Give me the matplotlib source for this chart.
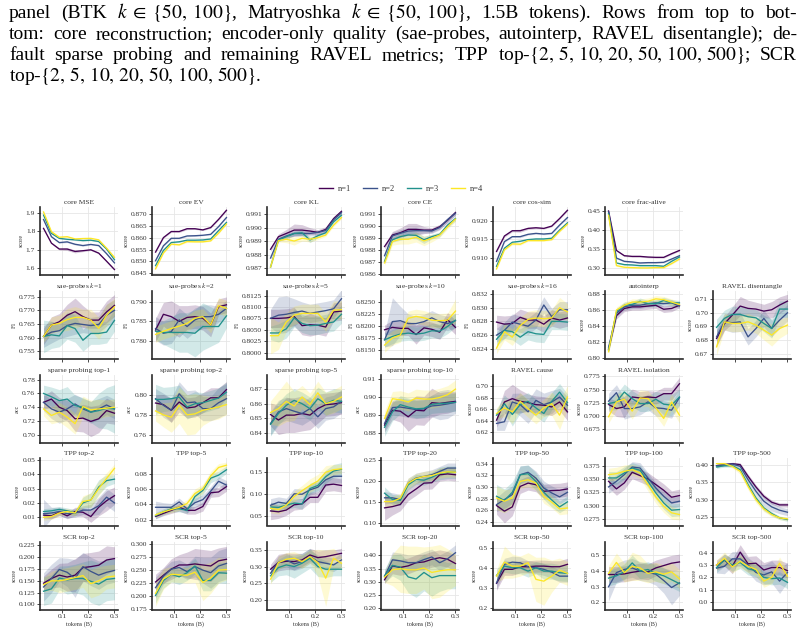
import matplotlib
matplotlib.use("Agg")
import matplotlib.pyplot as plt
from matplotlib.lines import Line2D
import numpy as np

plt.rcParams['font.family'] = 'serif'
plt.rcParams['font.serif'] = ['Liberation Serif', 'DejaVu Serif']
plt.rcParams['mathtext.fontset'] = 'stix'

tokens = [0.03, 0.06, 0.09, 0.12, 0.15, 0.18, 0.21, 0.24, 0.27, 0.30]
series_labels = ["n=1", "n=2", "n=3", "n=4"]
colors = ["#440154", "#3b528b", "#21918c", "#fde725"]

# ---------------- row 1: core reconstruction ----------------
core_mse = [[1.816, 1.736, 1.704, 1.704, 1.691, 1.695, 1.700, 1.682, 1.638, 1.593],
            [1.864, 1.771, 1.739, 1.743, 1.730, 1.723, 1.729, 1.723, 1.679, 1.629],
            [1.888, 1.789, 1.762, 1.757, 1.754, 1.750, 1.752, 1.745, 1.704, 1.646],
            [1.905, 1.798, 1.768, 1.771, 1.759, 1.761, 1.762, 1.754, 1.709, 1.659]]
core_mse_sd = [[.004, .004, .005, .008, .008, .005, .004, .004, .004, .004],
               [.003, .003, .004, .004, .004, .004, .003, .003, .003, .003],
               [.003, .003, .003, .003, .004, .004, .003, .003, .003, .003],
               [.004, .003, .004, .004, .004, .003, .003, .003, .003, .003]]

core_ev = [[.8539, .8601, .8627, .8627, .8639, .8639, .8634, .8644, .8679, .8718],
           [.8502, .8566, .8598, .8598, .8608, .8609, .8611, .8615, .8648, .8687],
           [.8481, .8546, .8580, .8583, .8590, .8590, .8591, .8595, .8631, .8666],
           [.8467, .8535, .8573, .8570, .8584, .8583, .8583, .8587, .8620, .8659]]
core_ev_sd = [[.0003, .0003, .0003, .0004, .0004, .0003, .0003, .0003, .0003, .0003],
              [.0002, .0003, .0003, .0003, .0003, .0003, .0002, .0002, .0002, .0002],
              [.0002, .0002, .0003, .0003, .0003, .0003, .0002, .0002, .0002, .0002],
              [.0003, .0003, .0003, .0003, .0004, .0003, .0003, .0002, .0002, .0002]]

core_kl = [[.98841, .98934, .98958, .98983, .98983, .98976, .98966, .98988, .99068, .99122],
           [.98776, .98915, .98939, .98958, .98958, .98958, .98966, .98980, .99059, .99112],
           [.98710, .98910, .98934, .98958, .98963, .98910, .98941, .98963, .99044, .99093],
           [.98710, .98905, .98915, .98902, .98922, .98915, .98927, .98946, .99020, .99076]]
core_kl_sd = [[.00015, .0002, .0003, .00045, .0004, .00025, .0002, .0002, .00015, .0001],
              [.0001, .00015, .0002, .0002, .0002, .0002, .00015, .0001, .0001, .0001],
              [.0001, .0001, .00015, .00015, .0002, .0002, .00015, .0001, .0001, .0001],
              [.0001, .0001, .00025, .0003, .0002, .0002, .00015, .0001, .0001, .0001]]

core_ce = [[.98829, .98926, .98945, .98973, .98973, .98967, .98967, .98995, .99050, .99114],
           [.98752, .98918, .98940, .98959, .98962, .98962, .98959, .98989, .99055, .99108],
           [.98705, .98885, .98912, .98926, .98923, .98885, .98912, .98931, .99009, .99064],
           [.98691, .98871, .98890, .98890, .98907, .98876, .98898, .98926, .98995, .99059]]
core_ce_sd = [[.0002, .0003, .0004, .0005, .0005, .0003, .0002, .0002, .0002, .0002],
              [.0002, .0003, .0003, .0003, .0003, .0002, .0002, .0002, .0002, .0002],
              [.0002, .0002, .0003, .0003, .0003, .0003, .0002, .0002, .0002, .0002],
              [.0002, .0003, .0004, .0004, .0004, .0004, .0003, .0002, .0002, .0002]]

core_cos = [[.91170, .91589, .91732, .91732, .91795, .91812, .91795, .91857, .92062, .92286],
            [.90902, .91437, .91571, .91571, .91634, .91660, .91642, .91660, .91884, .92089],
            [.90768, .91259, .91420, .91446, .91491, .91509, .91509, .91527, .91750, .91946],
            [.90696, .91214, .91375, .91366, .91464, .91464, .91464, .91490, .91714, .91910]]
core_cos_sd = [[.0002, .0003, .0003, .0004, .0003, .0003, .0002, .0002, .0002, .0002],
               [.0002, .0002, .0002, .0003, .0002, .0002, .0002, .0002, .0002, .0002],
               [.0002, .0002, .0002, .0002, .0002, .0002, .0002, .0002, .0002, .0002],
               [.0002, .0002, .0003, .0003, .0002, .0002, .0002, .0002, .0002, .0002]]

core_alive = [[.4500, .3466, .3328, .3310, .3310, .3293, .3285, .3285, .3380, .3466],
              [.4474, .3267, .3181, .3164, .3138, .3147, .3147, .3155, .3241, .3328],
              [.4431, .3138, .3095, .3086, .3069, .3069, .3069, .3052, .3181, .3293],
              [.4388, .3069, .3026, .3017, .3009, .3009, .3017, .3017, .3121, .3241]]
core_alive_sd = [[.002, .002, .002, .002, .002, .002, .002, .002, .002, .002],
                 [.002, .002, .002, .002, .002, .002, .002, .002, .002, .002],
                 [.002, .002, .002, .002, .002, .002, .002, .002, .002, .002],
                 [.002, .002, .002, .002, .002, .002, .002, .002, .002, .002]]

# ---------------- row 2: encoder-only quality ----------------
sae_k1 = [[.7604, .7646, .7658, .7682, .7695, .7677, .7664, .7664, .7694, .7718],
          [.7604, .7620, .7625, .7644, .7652, .7648, .7644, .7648, .7682, .7700],
          [.7604, .7610, .7606, .7644, .7633, .7590, .7615, .7615, .7620, .7663],
          [.7604, .7646, .7652, .7666, .7674, .7674, .7664, .7634, .7682, .7713]]
sae_k1_sd = [[.003, .003, .003, .004, .005, .004, .003, .003, .004, .004],
             [.004, .004, .003, .004, .004, .003, .003, .003, .004, .004],
             [.006, .005, .004, .005, .005, .004, .004, .004, .004, .004],
             [.002, .003, .003, .004, .004, .003, .004, .004, .004, .003]]

sae_k2 = [[.7828, .7868, .7862, .7850, .7860, .7862, .7858, .7841, .7887, .7892],
          [.7832, .7820, .7824, .7854, .7837, .7854, .7862, .7862, .7868, .7883],
          [.7825, .7822, .7822, .7822, .7822, .7820, .7837, .7837, .7837, .7864],
          [.7817, .7825, .7832, .7838, .7845, .7858, .7862, .7841, .7890, .7883]]
sae_k2_sd = [[.003, .003, .004, .004, .003, .003, .003, .003, .002, .002],
             [.003, .003, .003, .003, .003, .003, .003, .003, .002, .002],
             [.002, .003, .004, .005, .005, .006, .006, .005, .004, .003],
             [.002, .002, .002, .002, .002, .002, .002, .002, .002, .002]]

sae_k5 = [[.8075, .8075, .8076, .8079, .8059, .8061, .8060, .8056, .8089, .8091],
          [.8075, .8082, .8084, .8088, .8091, .8086, .8089, .8092, .8096, .8118],
          [.8043, .8043, .8052, .8076, .8064, .8059, .8060, .8064, .8067, .8084],
          [.8037, .8037, .8067, .8082, .8086, .8086, .8086, .8067, .8093, .8094]]
sae_k5_sd = [[.002, .002, .002, .002, .002, .0025, .002, .002, .002, .002],
             [.002, .004, .004, .003, .002, .002, .002, .002, .002, .002],
             [.0015, .002, .002, .002, .002, .002, .002, .002, .002, .002],
             [.004, .003, .002, .002, .002, .002, .002, .002, .002, .002]]

sae_k10 = [[.8193, .8198, .8196, .8196, .8183, .8197, .8194, .8188, .8214, .8198],
           [.8172, .8210, .8212, .8206, .8206, .8210, .8218, .8210, .8206, .8212],
           [.8172, .8179, .8184, .8186, .8184, .8186, .8191, .8190, .8200, .8213],
           [.8161, .8176, .8182, .8217, .8221, .8218, .8213, .8212, .8213, .8232]]
sae_k10_sd = [[.0010, .0015, .0015, .0015, .0020, .0015, .0015, .0015, .0015, .0015],
              [.0015, .0050, .0030, .0020, .0015, .0015, .0015, .0015, .0015, .0015],
              [.0015, .0015, .0015, .0015, .0015, .0015, .0015, .0015, .0015, .0015],
              [.0015, .0015, .0015, .0015, .0015, .0015, .0015, .0015, .0015, .0025]]

sae_k16 = [[.8279, .8276, .8277, .8286, .8282, .8282, .8276, .8285, .8282, .8285],
           [.8260, .8267, .8279, .8276, .8273, .8282, .8304, .8287, .8297, .8297],
           [.8254, .8267, .8265, .8257, .8265, .8262, .8261, .8280, .8280, .8279],
           [.8241, .8265, .8257, .8274, .8283, .8285, .8284, .8285, .8300, .8294]]
sae_k16_sd = [[.0010, .0012, .0012, .0012, .0012, .0012, .0012, .0012, .0012, .0012],
              [.0010, .0012, .0012, .0012, .0012, .0012, .0012, .0012, .0012, .0012],
              [.0010, .0012, .0012, .0012, .0012, .0012, .0012, .0012, .0012, .0012],
              [.0008, .0012, .0012, .0012, .0012, .0012, .0012, .0012, .0015, .0012]]

autointerp = [[.811, .853, .862, .864, .864, .865, .866, .861, .862, .866],
              [.813, .856, .864, .866, .866, .868, .869, .868, .869, .865],
              [.810, .858, .866, .867, .871, .868, .868, .872, .869, .869],
              [.808, .860, .866, .870, .870, .871, .874, .873, .870, .867]]
autointerp_sd = [[.003, .004, .004, .004, .004, .004, .004, .004, .004, .003],
                 [.003, .004, .004, .004, .004, .004, .004, .004, .004, .003],
                 [.003, .004, .004, .004, .004, .004, .004, .004, .004, .003],
                 [.003, .004, .004, .004, .004, .004, .004, .004, .004, .003]]

ravel_dis = [[.6812, .6920, .6983, .7049, .7032, .7027, .7012, .7022, .7056, .7085],
             [.6824, .6934, .6927, .6934, .6824, .6885, .6959, .6885, .6946, .7000],
             [.6893, .6959, .6988, .6988, .6971, .6963, .6922, .6885, .7027, .7027],
             [.6751, .6934, .6922, .6922, .6934, .6910, .6873, .6837, .6885, .6910]]
ravel_dis_sd = [[.006, .005, .006, .007, .006, .005, .005, .006, .006, .005],
                [.006, .006, .007, .007, .006, .006, .006, .006, .006, .006],
                [.006, .006, .006, .006, .006, .006, .006, .007, .006, .006],
                [.006, .006, .006, .006, .006, .006, .007, .008, .007, .006]]

# ---------------- row 3: sparse probing & RAVEL ----------------
sp_top1 = [[.7471, .7519, .7400, .7352, .7233, .7243, .7195, .7233, .7352, .7314],
           [.7471, .7376, .7329, .7376, .7448, .7376, .7329, .7376, .7433, .7376],
           [.7600, .7552, .7495, .7519, .7424, .7400, .7329, .7352, .7386, .7376],
           [.7376, .7281, .7329, .7257, .7162, .7410, .7362, .7376, .7386, .7400]]
sp_top1_sd = [[.010, .012, .014, .015, .018, .020, .022, .020, .018, .016],
              [.012, .014, .016, .015, .014, .015, .016, .015, .014, .014],
              [.012, .014, .016, .018, .015, .014, .015, .025, .030, .035],
              [.010, .012, .014, .015, .015, .015, .014, .014, .012, .012]]

sp_top2 = [[.7918, .7902, .7846, .7928, .7869, .7879, .7921, .7970, .7970, .8052],
           [.7961, .7895, .7846, .8010, .7921, .7928, .7862, .7862, .7921, .7961],
           [.7954, .7954, .7961, .7977, .7879, .7911, .7921, .7944, .7967, .8026],
           [.7839, .7800, .7777, .7895, .7800, .7810, .7846, .7862, .7879, .7902]]
sp_top2_sd = [[.008, .010, .012, .010, .010, .010, .010, .010, .010, .008],
              [.010, .012, .012, .012, .012, .012, .012, .012, .015, .015],
              [.015, .012, .012, .012, .012, .012, .010, .010, .010, .010],
              [.010, .012, .015, .018, .020, .020, .015, .012, .012, .010]]

sp_top5 = [[.8527, .8489, .8523, .8523, .8534, .8523, .8568, .8595, .8600, .8609],
           [.8466, .8545, .8568, .8550, .8534, .8568, .8511, .8568, .8580, .8618],
           [.8459, .8534, .8591, .8625, .8602, .8568, .8636, .8602, .8625, .8618],
           [.8541, .8568, .8618, .8586, .8648, .8595, .8677, .8602, .8618, .8648]]
sp_top5_sd = [[.008, .010, .012, .012, .012, .010, .010, .008, .008, .008],
              [.008, .008, .008, .008, .008, .008, .008, .008, .008, .008],
              [.008, .008, .008, .008, .008, .008, .008, .008, .008, .008],
              [.008, .012, .014, .010, .008, .008, .008, .008, .008, .008]]

sp_top10 = [[.8845, .8927, .8922, .8891, .8927, .8924, .8969, .8965, .8971, .8976],
            [.8855, .8942, .8945, .8938, .8931, .8935, .8951, .8955, .8962, .8971],
            [.8833, .8918, .8958, .8945, .8935, .8938, .8960, .8964, .8967, .8971],
            [.8882, .8991, .8985, .8973, .8994, .8989, .8989, .8998, .9013, .9044]]
sp_top10_sd = [[.004, .005, .006, .008, .008, .008, .008, .006, .006, .005],
               [.004, .004, .005, .005, .005, .005, .006, .008, .008, .006],
               [.005, .005, .005, .005, .005, .005, .005, .005, .005, .005],
               [.004, .004, .005, .005, .005, .005, .005, .005, .005, .005]]

ravel_cause = [[.6411, .6726, .6783, .6737, .6714, .6680, .6669, .6640, .6726, .6554],
               [.6354, .6383, .6726, .6680, .6554, .6754, .6680, .6726, .6811, .6669],
               [.6497, .6697, .6509, .6680, .6737, .6623, .6526, .6737, .6897, .6714],
               [.6526, .6623, .6554, .6737, .6611, .6497, .6623, .6697, .6497, .6811]]
ravel_cause_sd = [[.012, .020, .025, .020, .015, .015, .015, .015, .015, .015],
                  [.012, .015, .015, .020, .020, .020, .020, .020, .015, .015],
                  [.010, .015, .020, .015, .015, .015, .015, .015, .015, .015],
                  [.010, .015, .020, .015, .015, .015, .015, .020, .025, .020]]

ravel_iso = [[.7219, .7143, .7174, .7361, .7342, .7361, .7348, .7423, .7423, .7610],
             [.7281, .7442, .7143, .7143, .7174, .7268, .7156, .7143, .7112, .7348],
             [.7237, .7268, .7454, .7330, .7237, .7237, .7318, .7225, .7206, .7361],
             [.6988, .7268, .7318, .7094, .7342, .7330, .7156, .6957, .7268, .7019]]
ravel_iso_sd = [[.012, .015, .020, .015, .012, .012, .012, .012, .012, .012],
                [.015, .015, .020, .015, .015, .015, .015, .015, .015, .015],
                [.012, .015, .015, .015, .015, .015, .015, .020, .020, .015],
                [.012, .015, .015, .015, .015, .015, .015, .015, .015, .015]]

# ---------------- row 4: TPP ----------------
tpp2 = [[.0115, .0110, .0135, .0110, .0140, .0135, .0105, .0170, .0215, .0250],
        [.0125, .0130, .0140, .0125, .0130, .0150, .0150, .0180, .0240, .0200],
        [.0140, .0145, .0155, .0145, .0130, .0200, .0220, .0310, .0355, .0365],
        [.0100, .0105, .0130, .0140, .0130, .0210, .0220, .0300, .0370, .0440]]
tpp2_sd = [[.002, .002, .002, .002, .003, .003, .004, .006, .007, .006],
           [.010, .004, .003, .003, .003, .003, .004, .006, .006, .006],
           [.002, .002, .002, .002, .002, .004, .005, .005, .004, .003],
           [.002, .002, .002, .002, .002, .004, .005, .005, .004, .003]]

tpp5 = [[.024, .028, .032, .036, .032, .032, .037, .055, .056, .063],
        [.036, .036, .036, .043, .034, .042, .046, .057, .070, .065],
        [.025, .030, .034, .034, .032, .050, .058, .074, .078, .085],
        [.026, .030, .033, .036, .041, .054, .060, .077, .088, .091]]
tpp5_sd = [[.003, .003, .004, .005, .005, .005, .006, .006, .006, .006],
           [.008, .006, .005, .005, .005, .006, .006, .006, .006, .006],
           [.004, .004, .004, .004, .004, .006, .006, .006, .005, .005],
           [.003, .003, .004, .004, .005, .006, .006, .006, .005, .004]]

tpp10 = [[.062, .060, .064, .076, .078, .093, .093, .121, .123, .120],
         [.075, .082, .079, .101, .100, .110, .116, .133, .141, .141],
         [.071, .070, .075, .080, .078, .113, .120, .140, .153, .157],
         [.068, .065, .075, .095, .108, .120, .130, .150, .156, .158]]
tpp10_sd = [[.020, .015, .012, .012, .012, .012, .012, .015, .015, .015],
            [.015, .012, .012, .012, .012, .012, .012, .015, .015, .015],
            [.010, .010, .010, .010, .012, .012, .012, .015, .015, .015],
            [.010, .010, .010, .012, .012, .015, .015, .015, .012, .010]]

tpp20 = [[.135, .138, .143, .167, .180, .194, .195, .214, .216, .214],
         [.159, .159, .155, .194, .206, .210, .214, .222, .230, .230],
         [.170, .155, .153, .190, .203, .201, .208, .217, .220, .220],
         [.150, .150, .158, .194, .205, .210, .212, .218, .221, .220]]
tpp20_sd = [[.030, .020, .015, .015, .015, .015, .015, .015, .015, .015],
            [.015, .012, .012, .012, .012, .012, .012, .012, .012, .012],
            [.015, .012, .012, .012, .012, .012, .012, .015, .015, .015],
            [.015, .012, .012, .012, .012, .012, .012, .012, .012, .012]]

tpp50 = [[.2684, .2588, .2661, .3011, .3068, .3040, .2928, .2940, .2945, .2968],
         [.2700, .2786, .2872, .3211, .3253, .3153, .2983, .2900, .2832, .2911],
         [.2843, .2769, .2911, .3211, .3228, .3097, .2911, .2780, .2661, .2747],
         [.2814, .2758, .2814, .3097, .3125, .3068, .2843, .2741, .2627, .2643]]
tpp50_sd = [[.015, .020, .015, .012, .012, .012, .012, .012, .012, .012],
            [.012, .015, .015, .015, .012, .012, .012, .012, .012, .012],
            [.020, .020, .018, .015, .015, .015, .012, .012, .010, .010],
            [.020, .020, .015, .012, .012, .012, .012, .010, .010, .010]]

tpp100 = [[.3456, .3313, .3425, .3625, .3563, .3500, .3394, .3288, .3156, .3188],
          [.3350, .3456, .3581, .3725, .3706, .3519, .3331, .3175, .3050, .3081],
          [.3519, .3519, .3613, .3706, .3663, .3456, .3238, .3050, .2913, .2925],
          [.3581, .3600, .3644, .3675, .3613, .3394, .3163, .2988, .2863, .2831]]
tpp100_sd = [[.012, .012, .012, .012, .012, .012, .012, .012, .012, .012],
             [.012, .012, .012, .010, .010, .010, .010, .010, .010, .010],
             [.012, .012, .012, .010, .010, .012, .012, .012, .012, .012],
             [.012, .012, .012, .010, .010, .012, .012, .012, .012, .010]]

tpp500 = [[.3970, .4000, .4028, .4000, .3668, .3364, .3099, .2928, .2852, .2852],
          [.3970, .4000, .4020, .3953, .3573, .3241, .2957, .2795, .2700, .2643],
          [.3934, .3970, .3970, .3858, .3431, .3051, .2767, .2605, .2482, .2434],
          [.4028, .4028, .3953, .3810, .3383, .3004, .2738, .2577, .2482, .2453]]
tpp500_sd = [[.004, .004, .004, .005, .006, .006, .006, .006, .006, .006],
             [.004, .004, .004, .005, .008, .010, .012, .012, .010, .010],
             [.004, .004, .004, .006, .008, .008, .008, .006, .005, .005],
             [.004, .004, .005, .008, .010, .010, .008, .006, .005, .005]]

# ---------------- row 5: SCR ----------------
scr2 = [[.145, .155, .162, .158, .162, .178, .180, .183, .194, .197],
        [.137, .155, .174, .168, .155, .180, .170, .162, .168, .172],
        [.128, .133, .156, .152, .155, .155, .149, .143, .153, .155],
        [.142, .150, .150, .153, .157, .161, .144, .150, .158, .160]]
scr2_sd = [[.015, .020, .025, .030, .035, .030, .030, .030, .030, .025],
           [.030, .030, .025, .030, .040, .030, .030, .030, .025, .025],
           [.030, .030, .025, .030, .030, .035, .045, .045, .045, .045],
           [.015, .020, .025, .025, .025, .025, .030, .030, .025, .025]]

scr5 = [[.227, .240, .252, .260, .260, .262, .260, .258, .268, .271],
        [.216, .238, .252, .255, .247, .257, .250, .245, .258, .263],
        [.201, .230, .242, .237, .245, .258, .230, .230, .245, .244],
        [.205, .233, .242, .241, .240, .246, .226, .235, .250, .251]]
scr5_sd = [[.015, .015, .020, .020, .025, .030, .030, .030, .025, .025],
           [.020, .015, .015, .015, .015, .020, .025, .030, .030, .030],
           [.015, .015, .015, .015, .015, .015, .020, .020, .020, .020],
           [.025, .020, .015, .015, .015, .020, .035, .030, .025, .020]]

scr10 = [[.292, .312, .316, .315, .320, .335, .327, .330, .335, .340],
         [.280, .312, .320, .308, .315, .330, .315, .310, .305, .320],
         [.272, .297, .305, .300, .310, .325, .300, .292, .292, .292],
         [.262, .312, .322, .325, .315, .330, .312, .265, .325, .310]]
scr10_sd = [[.015, .025, .025, .025, .020, .020, .020, .020, .015, .015],
            [.015, .020, .020, .020, .020, .020, .020, .020, .020, .020],
            [.020, .025, .030, .035, .030, .030, .030, .025, .020, .020],
            [.015, .020, .020, .020, .020, .020, .040, .085, .030, .020]]

scr20 = [[.307, .360, .354, .360, .372, .375, .385, .391, .385, .369],
         [.320, .383, .379, .372, .372, .384, .394, .372, .387, .410],
         [.322, .362, .355, .318, .310, .335, .315, .323, .323, .323],
         [.317, .345, .349, .345, .345, .352, .335, .341, .345, .345]]
scr20_sd = [[.015, .030, .030, .030, .030, .030, .030, .030, .030, .030],
            [.020, .030, .030, .030, .030, .030, .030, .030, .030, .030],
            [.025, .040, .050, .060, .070, .070, .070, .060, .050, .050],
            [.020, .060, .090, .090, .090, .080, .100, .100, .080, .060]]

scr50 = [[.322, .392, .392, .405, .405, .408, .408, .405, .405, .417],
         [.325, .417, .428, .425, .405, .400, .392, .378, .358, .358],
         [.362, .408, .400, .400, .383, .400, .383, .383, .375, .372],
         [.358, .428, .408, .408, .425, .342, .333, .358, .388, .372]]
scr50_sd = [[.035, .030, .030, .030, .030, .030, .030, .030, .030, .030],
            [.030, .030, .030, .030, .030, .030, .030, .030, .030, .030],
            [.030, .030, .030, .030, .030, .030, .040, .040, .040, .040],
            [.030, .080, .060, .050, .050, .110, .120, .080, .060, .060]]

scr100 = [[.378, .378, .382, .392, .400, .395, .420, .435, .450, .458],
          [.300, .390, .410, .420, .400, .392, .380, .340, .295, .325],
          [.355, .370, .395, .452, .400, .410, .385, .370, .345, .320],
          [.385, .455, .390, .430, .420, .385, .395, .380, .395, .350]]
scr100_sd = [[.050, .050, .050, .050, .050, .050, .050, .050, .050, .050],
             [.090, .060, .060, .060, .060, .060, .070, .080, .110, .080],
             [.050, .050, .050, .050, .050, .050, .050, .050, .050, .050],
             [.050, .060, .060, .090, .080, .060, .060, .060, .060, .060]]

scr500 = [[.300, .340, .290, .405, .310, .315, .260, .280, .280, .255],
          [.275, .290, .350, .350, .300, .240, .220, .245, .170, .240],
          [.280, .340, .300, .320, .270, .255, .200, .190, .195, .160],
          [.300, .355, .285, .330, .290, .265, .170, .200, .315, .210]]
scr500_sd = [[.040, .050, .060, .060, .060, .060, .060, .060, .060, .060],
             [.040, .060, .060, .060, .060, .070, .080, .090, .100, .080],
             [.040, .050, .050, .050, .050, .050, .050, .050, .050, .050],
             [.040, .050, .050, .050, .050, .050, .050, .050, .050, .050]]

# (row, col, title, ylabel, means, bands, yticks, ylim)
panels = [
    (0, 0, "core MSE", "score", core_mse, core_mse_sd, [1.6, 1.7, 1.8, 1.9], (1.566, 1.932)),
    (0, 1, "core EV", "score", core_ev, core_ev_sd, [0.845, 0.850, 0.855, 0.860, 0.865, 0.870], (0.8443, 0.8732)),
    (0, 2, "core KL", "score", core_kl, core_kl_sd, [0.987, 0.988, 0.989, 0.990, 0.991], (0.98654, 0.99154)),
    (0, 3, "core CE", "score", core_ce, core_ce_sd, [0.986, 0.987, 0.988, 0.989, 0.990, 0.991], (0.98594, 0.99161)),
    (0, 4, "core cos-sim", "score", core_cos, core_cos_sd, [0.910, 0.915, 0.920], (0.90545, 0.92375)),
    (0, 5, "core frac-alive", "score", core_alive, core_alive_sd, [0.30, 0.35, 0.40, 0.45], (0.2836, 0.4603)),
    (1, 0, "sae-probes $k$=1", "F1", sae_k1, sae_k1_sd, [0.755, 0.760, 0.765, 0.770, 0.775], (0.7523, 0.7771)),
    (1, 1, "sae-probes $k$=2", "F1", sae_k2, sae_k2_sd, [0.780, 0.785, 0.790], (0.7756, 0.7927)),
    (1, 2, "sae-probes $k$=5", "F1", sae_k5, sae_k5_sd, [0.8000, 0.8025, 0.8050, 0.8075, 0.8100, 0.8125], (0.7987, 0.8135)),
    (1, 3, "sae-probes $k$=10", "F1", sae_k10, sae_k10_sd, [0.8150, 0.8175, 0.8200, 0.8225, 0.8250], (0.8133, 0.8274)),
    (1, 4, "sae-probes $k$=16", "F1", sae_k16, sae_k16_sd, [0.824, 0.826, 0.828, 0.830, 0.832], (0.82259, 0.83244)),
    (1, 5, "autointerp", "score", autointerp, autointerp_sd, [0.80, 0.82, 0.84, 0.86, 0.88], (0.7996, 0.8838)),
    (1, 6, "RAVEL disentangle", "score", ravel_dis, ravel_dis_sd, [0.67, 0.68, 0.69, 0.70, 0.71], (0.6666, 0.7159)),
    (2, 0, "sparse probing top-1", "acc", sp_top1, sp_top1_sd, [0.70, 0.72, 0.74, 0.76, 0.78], (0.6890, 0.7867)),
    (2, 1, "sparse probing top-2", "acc", sp_top2, sp_top2_sd, [0.76, 0.78, 0.80], (0.7525, 0.8197)),
    (2, 2, "sparse probing top-5", "acc", sp_top5, sp_top5_sd, [0.84, 0.85, 0.86, 0.87], (0.8334, 0.8800)),
    (2, 3, "sparse probing top-10", "acc", sp_top10, sp_top10_sd, [0.88, 0.89, 0.90, 0.91], (0.8749, 0.9122)),
    (2, 4, "RAVEL cause", "score", ravel_cause, ravel_cause_sd, [0.62, 0.64, 0.66, 0.68, 0.70], (0.6023, 0.7194)),
    (2, 5, "RAVEL isolation", "score", ravel_iso, ravel_iso_sd, [0.675, 0.700, 0.725, 0.750, 0.775], (0.6503, 0.7775)),
    (3, 0, "TPP top-2", "score", tpp2, tpp2_sd, [0.01, 0.02, 0.03, 0.04, 0.05], (0.0043, 0.0512)),
    (3, 1, "TPP top-5", "score", tpp5, tpp5_sd, [0.02, 0.04, 0.06, 0.08], (0.0122, 0.1004)),
    (3, 2, "TPP top-10", "score", tpp10, tpp10_sd, [0.05, 0.10, 0.15], (0.0288, 0.1826)),
    (3, 3, "TPP top-20", "score", tpp20, tpp20_sd, [0.10, 0.15, 0.20, 0.25], (0.0929, 0.2540)),
    (3, 4, "TPP top-50", "score", tpp50, tpp50_sd, [0.24, 0.26, 0.28, 0.30, 0.32, 0.34], (0.2343, 0.3497)),
    (3, 5, "TPP top-100", "score", tpp100, tpp100_sd, [0.275, 0.300, 0.325, 0.350, 0.375], (0.2625, 0.3894)),
    (3, 6, "TPP top-500", "score", tpp500, tpp500_sd, [0.25, 0.30, 0.35, 0.40], (0.2264, 0.4190)),
    (4, 0, "SCR top-2", "score", scr2, scr2_sd, [0.100, 0.125, 0.150, 0.175, 0.200, 0.225], (0.0894, 0.2321)),
    (4, 1, "SCR top-5", "score", scr5, scr5_sd, [0.175, 0.200, 0.225, 0.250, 0.275, 0.300], (0.1737, 0.3045)),
    (4, 2, "SCR top-10", "score", scr10, scr10_sd, [0.20, 0.25, 0.30, 0.35], (0.1702, 0.3742)),
    (4, 3, "SCR top-20", "score", scr20, scr20_sd, [0.20, 0.25, 0.30, 0.35, 0.40], (0.1939, 0.4509)),
    (4, 4, "SCR top-50", "score", scr50, scr50_sd, [0.2, 0.3, 0.4, 0.5], (0.1917, 0.5283)),
    (4, 5, "SCR top-100", "score", scr100, scr100_sd, [0.2, 0.3, 0.4, 0.5], (0.1553, 0.5850)),
    (4, 6, "SCR top-500", "score", scr500, scr500_sd, [0.0, 0.1, 0.2, 0.3, 0.4], (-0.0595, 0.4865)),
]
xticks = [0.1, 0.2, 0.3]
xtick_labels = ["0.1", "0.2", "0.3"]

SET_K = r"$k\;\in\;\{50,\;100\}$,"
SET_TOP = r"$\{2,\,5,\,10,\,20,\,50,\,100,\,500\}$"
caption_lines = [
    ["panel", "(BTK", SET_K, "Matryoshka", SET_K, "1.5B",
     "tokens).", "Rows", "from", "top", "to", "bot-"],
    ["tom:", "core", "reconstruction;", "encoder-only", "quality", "(sae-probes,", "autointerp,",
     "RAVEL", "disentangle);", "de-"],
    ["fault", "sparse", "probing", "and", "remaining", "RAVEL", "metrics;", "TPP",
     "top-" + SET_TOP + ";", "SCR"],
    ["top-" + SET_TOP + "."],
]

# ---------------- layout ----------------
W, H = 807, 634
fig = plt.figure(figsize=(W / 100, H / 100), dpi=100)
col_left = [40, 152, 267, 381, 493, 605, 713]
row_top = [207, 291, 375, 458, 542]
ax_w, ax_h = 78, 67.5
TXT = "#333333"

for (r, c, title, ylab, means, bands, yt, yl) in panels:
    ax = fig.add_axes([col_left[c] / W, 1 - (row_top[r] + ax_h) / H, ax_w / W, ax_h / H])
    x = np.array(tokens)
    for i in range(4):
        m = np.array(means[i])
        s = np.array(bands[i])
        ax.fill_between(x, m - s, m + s, color=colors[i], alpha=0.2, lw=0)
    for i in range(4):
        ax.plot(x, means[i], color=colors[i], lw=0.95)
    ax.set_xlim(0.0165, 0.3135)
    ax.set_ylim(*yl)
    ax.set_xticks(xticks)
    ax.set_yticks(yt)
    ax.yaxis.get_major_formatter().set_useOffset(False)
    if r == 4:
        ax.set_xticklabels(xtick_labels)
        ax.set_xlabel("tokens (B)", fontsize=4.4, labelpad=1.5, color=TXT)
    else:
        ax.set_xticklabels([])
    ax.grid(True, color="#e6e6e6", lw=0.6)
    ax.set_axisbelow(True)
    for s in ["top", "right"]:
        ax.spines[s].set_visible(False)
    for s in ["left", "bottom"]:
        ax.spines[s].set_linewidth(1.2)
        ax.spines[s].set_color("#2b2b2b")
    ax.tick_params(length=2, width=0.6, labelsize=5.3, pad=1.5, color="#2b2b2b", labelcolor=TXT)
    ax.set_title(title, fontsize=5.4, pad=2.5, color=TXT)
    ax.set_ylabel(ylab, fontsize=4.4, labelpad=1.5, color=TXT)

handles = [Line2D([0], [0], color=colors[i], lw=1.0) for i in range(4)]
fig.legend(handles, series_labels, loc="center", bbox_to_anchor=(401 / W, 1 - 189 / H),
           ncol=4, frameon=False, fontsize=6, handlelength=1.7, handletextpad=0.5,
           columnspacing=1.5, labelcolor=TXT)

# ---------------- caption (justified lines) ----------------
fig.canvas.draw()
renderer = fig.canvas.get_renderer()
X0, X1 = 9, 797
CAP_FS = 14.0
em = CAP_FS * 100 / 72

baselines = [18, 39, 60, 81]
for li, words in enumerate(caption_lines):
    ts = [fig.text(0, 1 - baselines[li] / H, w, fontsize=CAP_FS, va="baseline", ha="left",
                   math_fontfamily="stix", color="black") for w in words]
    ws = [t.get_window_extent(renderer).width for t in ts]
    if li < 3 and len(ws) > 1:
        gap = (X1 - X0 - sum(ws)) / (len(ws) - 1)
    else:
        gap = em * 0.25
    xx = X0
    for t, w in zip(ts, ws):
        t.set_x(xx / W)
        xx += w + gap

fig.savefig("out.png", dpi=100)
